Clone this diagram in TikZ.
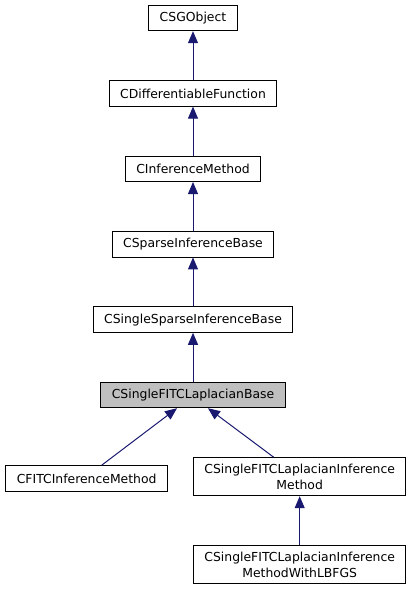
\documentclass[tikz,border=0pt]{standalone}
\usepackage{fontspec}
\setmainfont{DejaVu Sans}
\usepackage{xcolor}
\usetikzlibrary{arrows.meta, positioning}

\definecolor{edgeblue}{RGB}{25,25,112}
\definecolor{basegray}{RGB}{191,191,191}

\begin{document}
\begin{tikzpicture}[
    x=1pt, y=-1pt,
    classbox/.style={rectangle, draw=black, line width=0.9pt, fill=white,
                     minimum height=25.5pt, inner xsep=11pt, inner ysep=6.5pt,
                     align=center, font=\fontsize{12.4}{15.5}\selectfont},
    current/.style={classbox, fill=basegray},
    inherit/.style={-{Triangle[length=12pt, width=10pt]}, edgeblue, line width=1pt}
]
\useasboundingbox (0,0) rectangle (413,589);

\node[classbox] (SGObject) at (193,18) {CSGObject};
\node[classbox] (DiffFunction) [below=49pt of SGObject] {CDifferentiableFunction};
\node[classbox] (InfMethod) [below=49pt of DiffFunction] {CInferenceMethod};
\node[classbox] (SparseBase) [below=49pt of InfMethod] {CSparseInferenceBase};
\node[classbox] (SingleSparse) [below=49pt of SparseBase] {CSingleSparseInferenceBase};
\node[current] (LapBase) [below=49pt of SingleSparse] {CSingleFITCLaplacianBase};

\node[classbox] (FITCMethod) [below left=57pt and 25pt of LapBase.south] {CFITCInferenceMethod};
\node[classbox] (LapMethod) [below right=49pt and 0pt of LapBase.south] {CSingleFITCLaplacianInference\\Method};
\node[classbox] (LapLBFGS) [below=49pt of LapMethod] {CSingleFITCLaplacianInference\\MethodWithLBFGS};

\draw[inherit] (DiffFunction) -- (SGObject);
\draw[inherit] (InfMethod) -- (DiffFunction);
\draw[inherit] (SparseBase) -- (InfMethod);
\draw[inherit] (SingleSparse) -- (SparseBase);
\draw[inherit] (LapBase) -- (SingleSparse);
\draw[inherit] ([xshift=15pt]FITCMethod.north) -- ([xshift=-16pt]LapBase.south);
\draw[inherit] ([xshift=-26pt]LapMethod.north) -- ([xshift=15pt]LapBase.south);
\draw[inherit] (LapLBFGS) -- (LapMethod);

\end{tikzpicture}
\end{document}
